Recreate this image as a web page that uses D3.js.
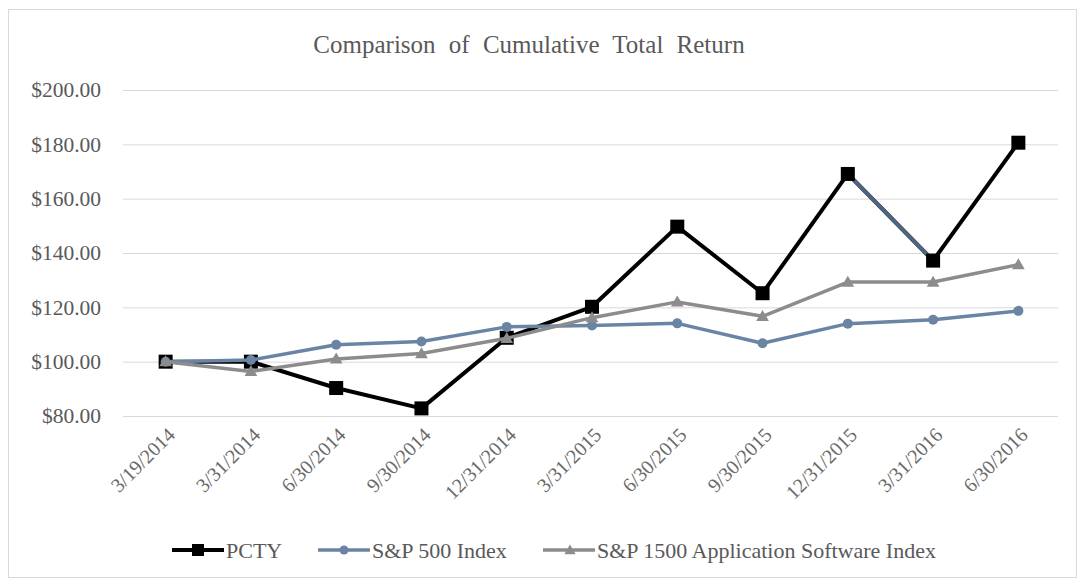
<!DOCTYPE html>
<html>
<head>
<meta charset="utf-8">
<script src="https://cdn.jsdelivr.net/npm/d3@7"></script>
<style>
  body { margin: 0; background: #fff; }
  text { font-family: "Liberation Serif", "Times New Roman", serif; fill: #595959; }
</style>
</head>
<body>
<svg width="1079" height="579"></svg>
<script>
// data
const dates = ["3/19/2014", "3/31/2014", "6/30/2014", "9/30/2014", "12/31/2014", "3/31/2015",
               "6/30/2015", "9/30/2015", "12/31/2015", "3/31/2016", "6/30/2016"];
const pcty = [100, 100, 90.3, 82.8, 108.8, 120.2, 149.7, 125.2, 169.1, 137.2, 180.6];
const sp500 = [100, 100.6, 106.2, 107.4, 112.8, 113.3, 114.1, 106.8, 114, 115.4, 118.7];
const sp1500App = [100, 96.4, 101, 103, 108.6, 116.2, 122, 116.7, 129.3, 129.3, 135.7];
const yTicks = [80, 100, 120, 140, 160, 180, 200];
const seriesNames = ["PCTY", "S&P 500 Index", "S&P 1500 Application Software Index"];

const FONT = '"Liberation Serif", "Times New Roman", serif';
const svg = d3.select('svg');

// outer frame
svg.append('rect')
  .attr('x', 8.5).attr('y', 9.5)
  .attr('width', 1068).attr('height', 568)
  .attr('fill', 'none')
  .attr('stroke', '#d9d9d9');

const x = d3.scalePoint().domain(dates).range([123, 1061]).padding(0.5);
const y = d3.scaleLinear().domain([80, 200]).range([416, 90]);

// title
svg.append('text')
  .attr('x', 529).attr('y', 53)
  .attr('text-anchor', 'middle')
  .style('font-family', FONT)
  .style('font-size', '25px')
  .style('word-spacing', '7px')
  .text('Comparison of Cumulative Total Return');

// y axis: gridlines + labels
const yAxis = svg.append('g')
  .attr('transform', 'translate(123,0)')
  .call(d3.axisLeft(y).tickValues(yTicks).tickSize(-935).tickFormat(d => '$' + d3.format('.2f')(d)).tickPadding(22));
yAxis.select('.domain').remove();
yAxis.selectAll('line').attr('stroke', '#d9d9d9');
yAxis.selectAll('text').style('font-family', FONT).style('font-size', '21.5px').attr('fill', '#595959');

// x axis labels
const xAxis = svg.append('g')
  .attr('transform', 'translate(0,416)')
  .call(d3.axisBottom(x).tickSize(0));
xAxis.select('.domain').remove();
xAxis.selectAll('text')
  .style('font-family', FONT)
  .style('font-size', '20px')
  .style('fill', '#6a6a6a')
  .attr('text-anchor', 'end')
  .attr('dy', null)
  .attr('transform', 'translate(8,18) rotate(-45)');

const line = d3.line().x((d, i) => x(dates[i])).y(d => y(d));

// PCTY (one segment in the source is drawn in blue-grey)
const oddSeg = 8;
const pctyG = svg.append('g');
pctyG.append('path')
  .attr('d', line(pcty))
  .attr('fill', 'none').attr('stroke', '#000').attr('stroke-width', 4).attr('stroke-linejoin', 'round');
pctyG.append('line')
  .attr('x1', x(dates[oddSeg])).attr('y1', y(pcty[oddSeg]))
  .attr('x2', x(dates[oddSeg + 1])).attr('y2', y(pcty[oddSeg + 1]))
  .attr('stroke', '#4e6580').attr('stroke-width', 4);
pctyG.selectAll('rect').data(pcty).join('rect')
  .attr('x', (d, i) => x(dates[i]) - 7).attr('y', d => y(d) - 7)
  .attr('width', 14).attr('height', 14).attr('fill', '#000');

// S&P 500
const spG = svg.append('g');
spG.append('path')
  .attr('d', line(sp500))
  .attr('fill', 'none').attr('stroke', '#6a84a3').attr('stroke-width', 3.5).attr('stroke-linejoin', 'round');
spG.selectAll('circle').data(sp500).join('circle')
  .attr('cx', (d, i) => x(dates[i])).attr('cy', d => y(d))
  .attr('r', 5).attr('fill', '#6a84a3');

// S&P 1500 Application Software
const tri = d3.symbol().type(d3.symbolTriangle).size(70);
const appG = svg.append('g');
appG.append('path')
  .attr('d', line(sp1500App))
  .attr('fill', 'none').attr('stroke', '#8c8c8c').attr('stroke-width', 3.5).attr('stroke-linejoin', 'round');
appG.selectAll('.tri').data(sp1500App).join('path')
  .attr('class', 'tri')
  .attr('d', tri)
  .attr('transform', (d, i) => `translate(${x(dates[i])},${y(d) + 1})`)
  .attr('fill', '#8c8c8c');

// legend
const legendY = 550;
const legend = [
  {x: 172, color: '#000', w: 4, marker: 'square'},
  {x: 318, color: '#6a84a3', w: 3.5, marker: 'circle'},
  {x: 543, color: '#8c8c8c', w: 3.5, marker: 'triangle'}
];
legend.forEach((l, i) => {
  const g = svg.append('g').attr('transform', `translate(${l.x},${legendY})`);
  g.append('line').attr('x1', 0).attr('x2', 52).attr('stroke', l.color).attr('stroke-width', l.w);
  if (l.marker === 'square') g.append('rect').attr('x', 20).attr('y', -6).attr('width', 12).attr('height', 12).attr('fill', l.color);
  if (l.marker === 'circle') g.append('circle').attr('cx', 26).attr('r', 4.5).attr('fill', l.color);
  if (l.marker === 'triangle') g.append('path').attr('d', d3.symbol().type(d3.symbolTriangle).size(55)).attr('transform', 'translate(27,1)').attr('fill', l.color);
  g.append('text').attr('x', 54).attr('y', 8)
    .style('font-family', FONT).style('font-size', '22px').text(seriesNames[i]);
});
</script>
</body>
</html>
